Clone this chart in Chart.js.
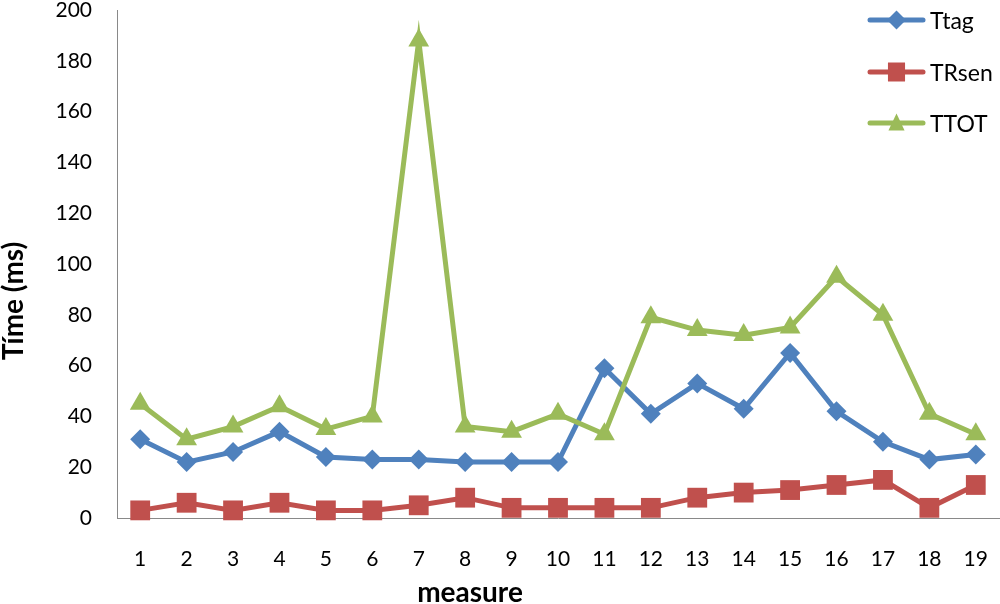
<!DOCTYPE html>
<html>
<head>
<meta charset="utf-8">
<script src="https://cdn.jsdelivr.net/npm/chart.js@4.4.0/dist/chart.umd.min.js"></script>
<style>
  html, body { margin: 0; padding: 0; background: #ffffff; }
  #wrap { width: 1000px; height: 604px; position: relative; }
</style>
</head>
<body>
<div id="wrap"><canvas id="c" width="1000" height="604"></canvas></div>
<script>
const categories = ['1','2','3','4','5','6','7','8','9','10','11','12','13','14','15','16','17','18','19'];
const ttag  = [31, 22, 26, 34, 24, 23, 23, 22, 22, 22, 59, 41, 53, 43, 65, 42, 30, 23, 25];
const trsen = [3, 6, 3, 6, 3, 3, 5, 8, 4, 4, 4, 4, 8, 10, 11, 13, 15, 4, 13];
const ttot  = [45, 31, 36, 44, 35, 40, 188, 36, 34, 41, 33, 79, 74, 72, 75, 95, 80, 41, 33];
const seriesNames = ['Ttag', 'TRsen', 'TTOT'];
const seriesColors = ['#4F81BD', '#C0504D', '#9BBB59'];
const yMin = 0, yMax = 200, yStep = 20;
const xTitle = 'measure';
const yTitle = 'Tíme (ms)';
const FONT = 'Lato, "Open Sans", "DejaVu Sans", sans-serif';

function drawMarker(ctx, style, x, y, s, color) {
  ctx.save();
  ctx.fillStyle = color;
  ctx.beginPath();
  if (style === 'rectRot') {
    ctx.moveTo(x, y - s); ctx.lineTo(x + s, y); ctx.lineTo(x, y + s); ctx.lineTo(x - s, y);
  } else if (style === 'rect') {
    ctx.rect(x - s * 0.9, y - s, s * 1.8, s * 2);
  } else {
    ctx.moveTo(x, y - s); ctx.lineTo(x + s * 0.85, y + s * 0.8); ctx.lineTo(x - s * 0.85, y + s * 0.8);
  }
  ctx.closePath();
  ctx.fill();
  ctx.restore();
}

const overlay = {
  id: 'overlay',
  afterDraw(chart) {
    const ctx = chart.ctx;
    ctx.save();
    const styles = ['rectRot', 'rect', 'triangle'];
    const ys = [20, 72, 123];
    for (let i = 0; i < 3; i++) {
      ctx.strokeStyle = seriesColors[i];
      ctx.lineWidth = 5;
      ctx.lineCap = 'round';
      ctx.beginPath();
      ctx.moveTo(870, ys[i]); ctx.lineTo(923, ys[i]);
      ctx.stroke();
      drawMarker(ctx, styles[i], 896.5, ys[i], 9.5, seriesColors[i]);
      ctx.fillStyle = '#000';
      ctx.font = '23px ' + FONT;
      ctx.textAlign = 'left';
      ctx.textBaseline = 'alphabetic';
      ctx.fillText(seriesNames[i], 930, ys[i] + 8.5);
    }
    ctx.fillStyle = '#000';
    ctx.font = 'bold 28px ' + FONT;
    ctx.textAlign = 'center';
    ctx.textBaseline = 'alphabetic';
    ctx.fillText(xTitle, 470, 602);
    ctx.save();
    ctx.translate(23, 301);
    ctx.rotate(-Math.PI / 2);
    ctx.fillText(yTitle, 0, 0);
    ctx.restore();
    ctx.restore();
  }
};

function ds(label, data, color, style, radius, order) {
  return {
    label: label, data: data,
    borderColor: color, backgroundColor: color,
    borderWidth: 5, tension: 0,
    pointStyle: style, pointRadius: radius, pointHoverRadius: radius,
    pointBackgroundColor: color, pointBorderColor: color, pointBorderWidth: 0,
    clip: false, order: order
  };
}

function noPad(scale) {
  scale.paddingTop = 0; scale.paddingBottom = 0;
  scale.paddingLeft = 0; scale.paddingRight = 0;
}

new Chart(document.getElementById('c'), {
  type: 'line',
  data: {
    labels: categories,
    datasets: [
      ds(seriesNames[0], ttag, seriesColors[0], 'rectRot', 10, 2),
      ds(seriesNames[1], trsen, seriesColors[1], 'rect', 14, 1),
      ds(seriesNames[2], ttot, seriesColors[2], 'triangle', 12, 0)
    ]
  },
  options: {
    responsive: false,
    animation: false,
    devicePixelRatio: 1,
    layout: { autoPadding: false, padding: { top: 10, right: 1, left: 0, bottom: 0 } },
    plugins: { legend: { display: false }, tooltip: { enabled: false }, title: { display: false } },
    scales: {
      x: {
        type: 'category',
        offset: true,
        grid: { display: true, drawOnChartArea: false, drawTicks: true, tickLength: 29, color: 'rgba(0,0,0,0)' },
        border: { display: true, color: '#898989', width: 1 },
        ticks: { color: '#000', font: { family: FONT, size: 21 }, padding: 0, maxRotation: 0, autoSkip: false },
        afterFit(scale) { scale.height = 86; noPad(scale); }
      },
      y: {
        min: yMin, max: yMax,
        grid: { display: false, drawTicks: false },
        border: { display: true, color: '#898989', width: 1 },
        ticks: { stepSize: yStep, color: '#000', font: { family: FONT, size: 21 }, padding: 25 },
        afterFit(scale) { scale.width = 117; noPad(scale); }
      }
    }
  },
  plugins: [overlay]
});
</script>
</body>
</html>
